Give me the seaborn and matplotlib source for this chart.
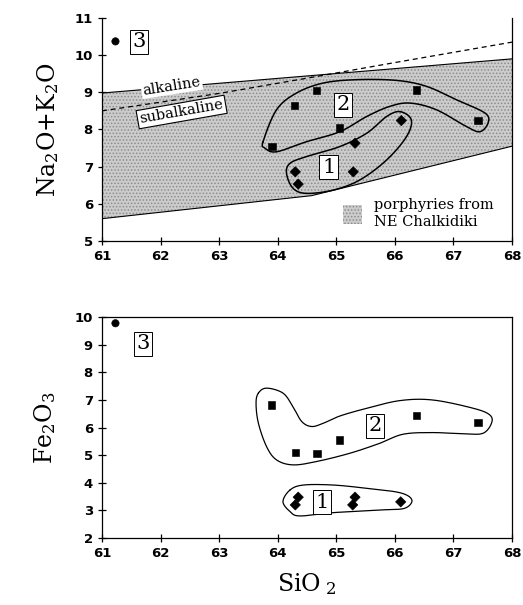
import numpy as np
import matplotlib.pyplot as plt
import pandas as pd
import seaborn as sns
from matplotlib.patches import Patch

# sample values (group 1 = diamonds, 2 = squares, 3 = circle)
sio2 = [61.23, 63.90, 64.29, 64.66, 65.06, 66.37, 67.42,
        64.30, 64.35, 65.32, 65.29, 66.11]
alk = [10.37, 7.54, 8.64, 9.04, 8.04, 9.06, 8.24,
       6.86, 6.53, 7.63, 6.86, 8.24]
groups = ['3', '2', '2', '2', '2', '2', '2', '1', '1', '1', '1', '1']

sio2_fe = [61.23, 63.89, 64.30, 64.67, 65.05, 66.37, 67.42,
           64.35, 64.30, 65.32, 65.28, 66.10]
fe2o3 = [9.78, 6.82, 5.10, 5.07, 5.55, 6.45, 6.18,
         3.48, 3.20, 3.48, 3.20, 3.31]

# field of porphyries from NE Chalkidiki
band_x_top = [61, 68]
band_y_top = [8.98, 9.90]
band_x_bot = [61, 64.58, 68]
band_y_bot = [5.60, 6.22, 7.55]

# alkaline / subalkaline divide
div_x = [61, 63, 64.5, 66, 68]
div_y = [8.50, 8.97, 9.38, 9.80, 10.35]

# hand drawn group envelopes (outline points)
env_top = {
    '2': ([63.75, 63.98, 64.32, 64.78, 65.35, 66.03, 66.54, 67.05, 67.54, 67.59, 67.45,
           67.22, 66.71, 66.26, 65.91, 65.52, 65.06, 64.49, 63.98, 63.78],
          [7.67, 8.53, 8.98, 9.25, 9.34, 9.32, 9.16, 8.80, 8.44, 8.17, 7.94,
           8.08, 8.53, 8.71, 8.62, 8.35, 7.94, 7.67, 7.40, 7.50]),
    '1': ([66.09, 66.28, 66.20, 65.86, 65.40, 64.95, 64.49, 64.26, 64.15, 64.21, 64.49,
           65.06, 65.52, 65.86],
          [8.48, 8.26, 7.81, 7.18, 6.64, 6.37, 6.28, 6.42, 6.82, 7.09, 7.27,
           7.54, 7.90, 8.35]),
}
env_bot = {
    '2': ([63.67, 63.81, 64.09, 64.26, 64.41, 64.58, 64.78, 65.06, 65.52, 66.09, 66.65,
           67.34, 67.62, 67.65, 67.51, 67.22, 66.65, 66.14, 65.74, 65.23, 64.66, 64.26,
           63.98, 63.81, 63.67, 63.63],
          [7.25, 7.43, 7.25, 6.76, 6.22, 6.04, 6.16, 6.42, 6.70, 6.98, 7.00,
           6.70, 6.46, 6.16, 5.80, 5.77, 5.82, 5.76, 5.43, 5.07, 4.77, 4.65,
           4.83, 5.31, 6.16, 6.88]),
    '1': ([64.21, 64.44, 64.95, 65.52, 66.09, 66.29, 66.17, 65.80, 64.95, 64.38, 64.21, 64.09],
          [3.74, 3.92, 3.92, 3.80, 3.64, 3.38, 3.08, 3.02, 2.92, 2.80, 2.96, 3.32]),
}

# boxed group numbers
lab_top = {'3': (61.63, 10.36), '2': (65.11, 8.66), '1': (64.87, 6.99)}
lab_bot = {'3': (61.70, 9.03), '2': (65.66, 6.07), '1': (64.76, 3.29)}


def closed_spline(xs, ys, n=20):
    '''Catmull-Rom curve through the outline points, closed'''
    p = np.column_stack([xs, ys])
    out = []
    k = len(p)
    t = np.linspace(0, 1, n, endpoint=False)[:, None]
    for i in range(k):
        p0, p1, p2, p3 = p[i - 1], p[i], p[(i + 1) % k], p[(i + 2) % k]
        seg = 0.5 * ((2 * p1) + (-p0 + p2) * t + (2 * p0 - 5 * p1 + 4 * p2 - p3) * t ** 2
                     + (-p0 + 3 * p1 - 3 * p2 + p3) * t ** 3)
        out.append(seg)
    out = np.vstack(out + [out[0][:1]])
    return out[:, 0], out[:, 1]


sns.set_style('ticks')
plt.rcParams['font.family'] = ['DejaVu Serif']
plt.rcParams['mathtext.fontset'] = 'dejavuserif'
plt.rcParams['hatch.linewidth'] = 0.7
for key in ['text.color', 'axes.labelcolor', 'xtick.color', 'ytick.color', 'axes.edgecolor']:
    plt.rcParams[key] = 'black'

markers = {'1': 'D', '2': 's', '3': 'o'}
df_top = pd.DataFrame({'SiO2': sio2, 'alk': alk, 'group': groups})
df_bot = pd.DataFrame({'SiO2': sio2_fe, 'fe': fe2o3, 'group': groups})

band_face = '#cccccc'
band_dots = '#8c8c8c'

fig = plt.figure(figsize=(5.23, 6.05), dpi=100)
ax1 = fig.add_axes([0.195, 0.6017, 0.784, 0.3686])
ax2 = fig.add_axes([0.195, 0.1107, 0.784, 0.365])

# ---- top panel ----
xx = np.linspace(61, 68, 200)
ax1.fill_between(xx, np.interp(xx, band_x_bot, band_y_bot), np.interp(xx, band_x_top, band_y_top),
                 facecolor=band_face, hatch='.....', edgecolor=band_dots, linewidth=0, zorder=1)
ax1.plot(band_x_top, band_y_top, color='black', lw=0.8, zorder=2)
ax1.plot(band_x_bot, band_y_bot, color='black', lw=0.8, zorder=2)
ax1.plot(div_x, div_y, color='black', lw=0.9, ls=(0, (4, 3)), zorder=2)

for g, (ex, ey) in env_top.items():
    cx, cy = closed_spline(ex, ey)
    ax1.plot(cx, cy, color='black', lw=1.1, zorder=3)

sns.scatterplot(data=df_top, x='SiO2', y='alk', style='group', markers=markers,
                color='black', s=28, edgecolor='black', legend=False, ax=ax1, zorder=5)

ax1.text(62.19, 9.17, 'alkaline', fontsize=10.5, rotation=9, ha='center', va='center',
         bbox=dict(facecolor='white', edgecolor='none', pad=1), zorder=4)
ax1.text(62.36, 8.47, 'subalkaline', fontsize=10.5, rotation=10, ha='center', va='center',
         bbox=dict(facecolor='white', edgecolor='black', lw=0.8, boxstyle='square,pad=0.15'), zorder=4)

leg = ax1.legend(handles=[Patch(facecolor=band_face, hatch='.....', edgecolor=band_dots, lw=0)],
                 labels=['porphyries from\nNE Chalkidiki'], loc='lower right', frameon=False,
                 fontsize=10.5, handlelength=1.3, handleheight=1.6, handletextpad=0.8,
                 borderaxespad=0.45, labelspacing=0, bbox_to_anchor=(0.985, 0.0))

ax1.set_xlim(61, 68)
ax1.set_ylim(5, 11)
ax1.set_yticks(range(5, 12))
ax1.set_ylabel(r'Na$_2$O+K$_2$O', fontsize=17, labelpad=10)
ax1.set_xlabel('')
ax1.spines['top'].set_visible(False)

# ---- bottom panel ----
for g, (ex, ey) in env_bot.items():
    cx, cy = closed_spline(ex, ey)
    ax2.plot(cx, cy, color='black', lw=0.9, zorder=3)

sns.scatterplot(data=df_bot, x='SiO2', y='fe', style='group', markers=markers,
                color='black', s=28, edgecolor='black', legend=False, ax=ax2, zorder=5)

ax2.set_xlim(61, 68)
ax2.set_ylim(2, 10)
ax2.set_yticks(range(2, 11))
ax2.set_ylabel(r'Fe$_2$O$_3$', fontsize=17, labelpad=12)
ax2.set_xlabel(r'SiO$_{\ 2}$', fontsize=17, labelpad=8)

for ax, labs in ((ax1, lab_top), (ax2, lab_bot)):
    for g, (lx, ly) in labs.items():
        ax.text(lx, ly, g, fontsize=15, ha='center', va='center', zorder=6,
                bbox=dict(facecolor='white', edgecolor='black', lw=0.7, boxstyle='square,pad=0.12'))
    ax.set_xticks(range(61, 69))
    ax.tick_params(direction='inout', length=6, width=0.9, labelsize=9.5)
    for t in ax.get_xticklabels() + ax.get_yticklabels():
        t.set_family('DejaVu Sans')
        t.set_fontweight('bold')
    for sp in ax.spines.values():
        sp.set_linewidth(0.9)

fig.savefig('out.png', dpi=100)
